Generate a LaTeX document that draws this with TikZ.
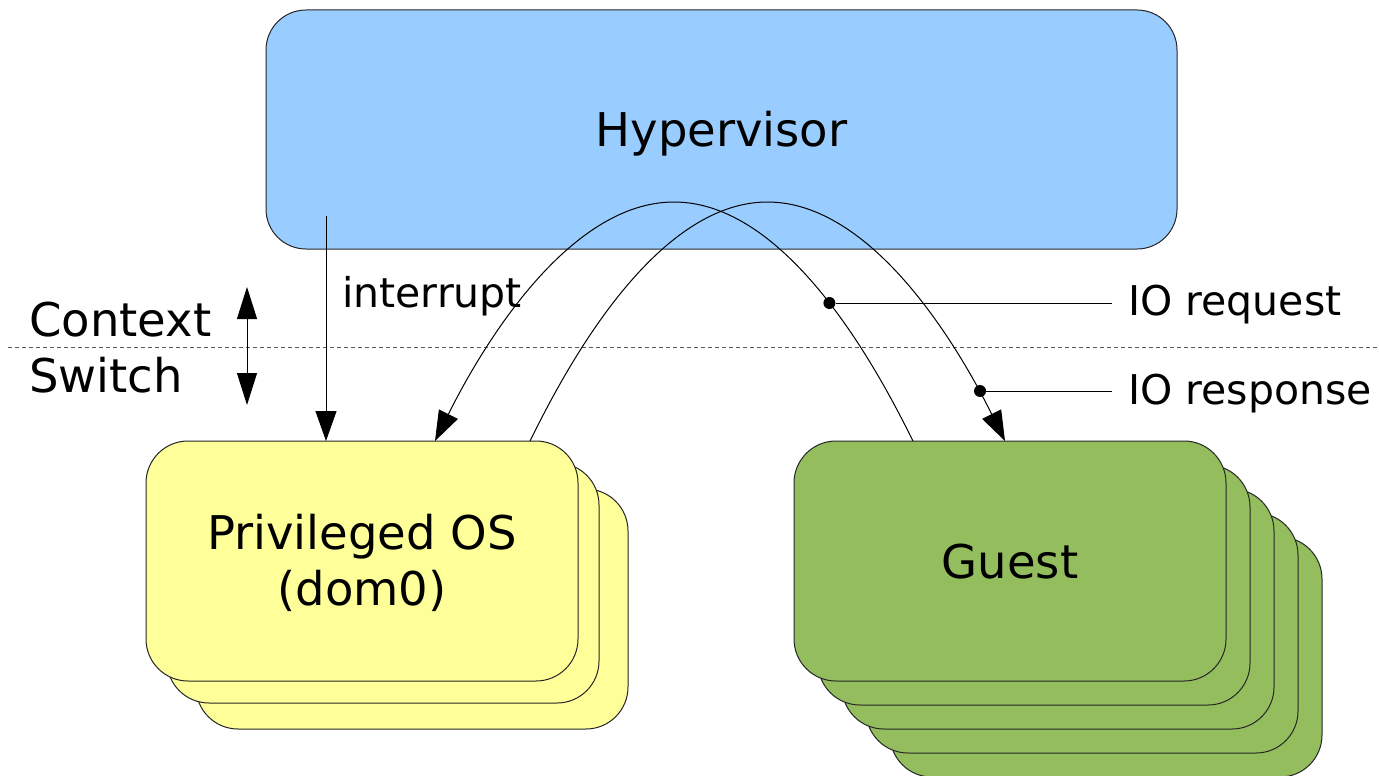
\documentclass[tikz,border=0pt]{standalone}
\usepackage{fontspec}
\setmainfont{DejaVu Sans}
\usetikzlibrary{arrows.meta}
\definecolor{hvblue}{HTML}{99CCFF}
\definecolor{domyellow}{HTML}{FFFF99}
\definecolor{guestgreen}{HTML}{94BD5E}
\begin{document}
\begin{tikzpicture}[x=1pt,y=-1pt,
  box/.style={draw=black!85, line width=1pt, rounded corners=42pt, minimum width=432pt, minimum height=240pt, inner sep=0pt, outer sep=0pt, anchor=north west},
  big/.style={font=\fontsize{46.5}{56}\selectfont, inner sep=0pt, anchor=base},
  small/.style={font=\fontsize{41}{50}\selectfont, inner sep=0pt, anchor=base west},
  conn/.style={line width=1pt},
  tip/.style={-{Triangle[length=30pt,width=21pt]}},
  dot/.style={circle, fill=black, inner sep=0pt, minimum size=12pt},
  sep/.style={draw=black!65, line width=1pt, dash pattern=on 4pt off 3pt}
]
\useasboundingbox (0,0) rectangle (1379,776);

% separator
\coordinate (dl) at (8,347);
\coordinate (dr) at (1379,347);
\draw[sep] (dl) -- (dr);

% hypervisor
\node[box, fill=hvblue, minimum width=911pt, minimum height=239pt, rounded corners=40pt] (hv) at (266,10) {};
\node[big] (hvtext) at (721.5,146) {Hypervisor};

% privileged OS stack
\node[box, fill=domyellow] (dom0c) at (196,489) {};
\node[box, fill=domyellow] (dom0b) at (167,463) {};
\node[box, fill=domyellow] (dom0) at (146,441) {};
\node[big] (domtextA) at (362,549) {Privileged OS};
\node[big] (domtextB) at (362,605) {(dom0)};

% guest stack
\foreach \k in {4,3,2,1}
  \node[box, fill=guestgreen] (guest\k) at ({794+24*\k},{441+24*\k}) {};
\node[box, fill=guestgreen] (guest) at (794,441) {};
\node[big] (guesttext) at (1010,578) {Guest};

% context switch
\node[big, anchor=base west] (ctx1) at (29,336) {Context};
\node[big, anchor=base west] (ctx2) at (29,392) {Switch};
\coordinate (csT) at (247,287);
\coordinate (csB) at (247,405);
\draw[conn, {Triangle[length=32pt,width=20pt]}-{Triangle[length=32pt,width=20pt]}] (csT) -- (csB);

% interrupt
\coordinate (intS) at (326,216);
\coordinate (intE) at (326,441);
\draw[conn, tip] (intS) -- (intE);
\node[small] (intlbl) at (342,307) {interrupt};

% IO request arc (guest -> dom0)
\coordinate (reqS) at (913,441);
\coordinate (reqTop) at (674,202);
\coordinate (reqE) at (435,441);
\draw[conn, tip] (reqS) parabola bend (reqTop) (reqE);

% IO response arc (dom0 -> guest)
\coordinate (resS) at (530,441);
\coordinate (resTop) at (767.5,202);
\coordinate (resE) at (1005,441);
\draw[conn, tip] (resS) parabola bend (resTop) (resE);

% callouts
\node[dot] (reqDot) at (829.4,303) {};
\coordinate (reqEnd) at (1112,303);
\draw[conn] (reqDot) -- (reqEnd);
\node[small] (reqlbl) at (1128,315) {IO request};

\node[dot] (resDot) at (980,391) {};
\coordinate (resEnd) at (1112,391);
\draw[conn] (resDot) -- (resEnd);
\node[small] (reslbl) at (1128,404) {IO response};
\end{tikzpicture}
\end{document}
